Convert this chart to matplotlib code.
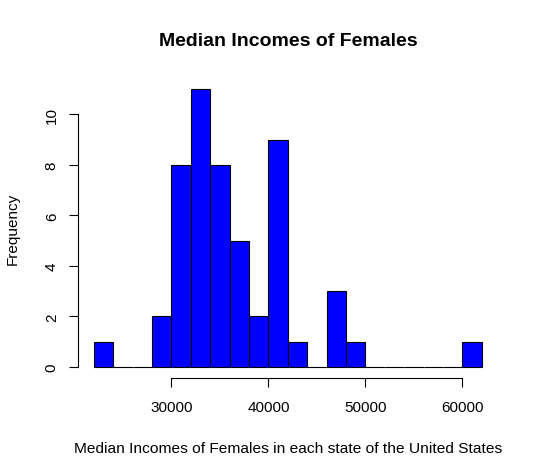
import matplotlib
matplotlib.use('Agg')
import matplotlib.pyplot as plt
import numpy as np

# histogram of median female incomes, bins of 2000
bin_edges = np.arange(22000, 62001, 2000)
counts = [1, 0, 0, 2, 8, 11, 8, 5, 2, 9, 1, 0, 3, 1, 0, 0, 0, 0, 0, 1]
x_ticks = [30000, 40000, 50000, 60000]
y_ticks = [0, 2, 4, 6, 8, 10]

plt.rcParams['font.family'] = ['Liberation Sans', 'DejaVu Sans']

W, H = 538, 477
fig = plt.figure(figsize=(W / 100, H / 100), dpi=100)
ax = fig.add_axes([78.3 / W, 1 - 379 / H, (497.3 - 78.3) / W, (379 - 79) / H])

ax.bar(bin_edges[:-1], counts, width=2000, align='edge',
       color='#0000ff', edgecolor='black', linewidth=0.8)

ax.set_xlim(20400, 63600)
ax.set_ylim(-0.44, 11.44)
ax.set_xticks(x_ticks)
ax.set_xticklabels([str(v) for v in x_ticks])
ax.set_yticks(y_ticks)
ax.set_yticklabels([str(v) for v in y_ticks], rotation=90, va='center')

for side in ['top', 'right']:
    ax.spines[side].set_visible(False)
ax.spines['left'].set_bounds(0, 10)
ax.spines['bottom'].set_bounds(30000, 60000)
for side in ['left', 'bottom']:
    ax.spines[side].set_linewidth(0.8)
ax.tick_params(length=6.5, width=0.8, labelsize=11, pad=9)
ax.tick_params(axis='y', pad=7.5)

fig.text(288 / W, 1 - 42 / H, "Median Incomes of Females", ha='center', va='center',
         fontsize=14, fontweight='bold')
fig.text(288 / W, 1 - 449 / H, "Median Incomes of Females in each state of the United States",
         ha='center', va='center', fontsize=11.15)
fig.text(13 / W, 1 - 229 / H, "Frequency", ha='center', va='center', rotation=90, fontsize=11)

fig.savefig('out.png', dpi=100)
